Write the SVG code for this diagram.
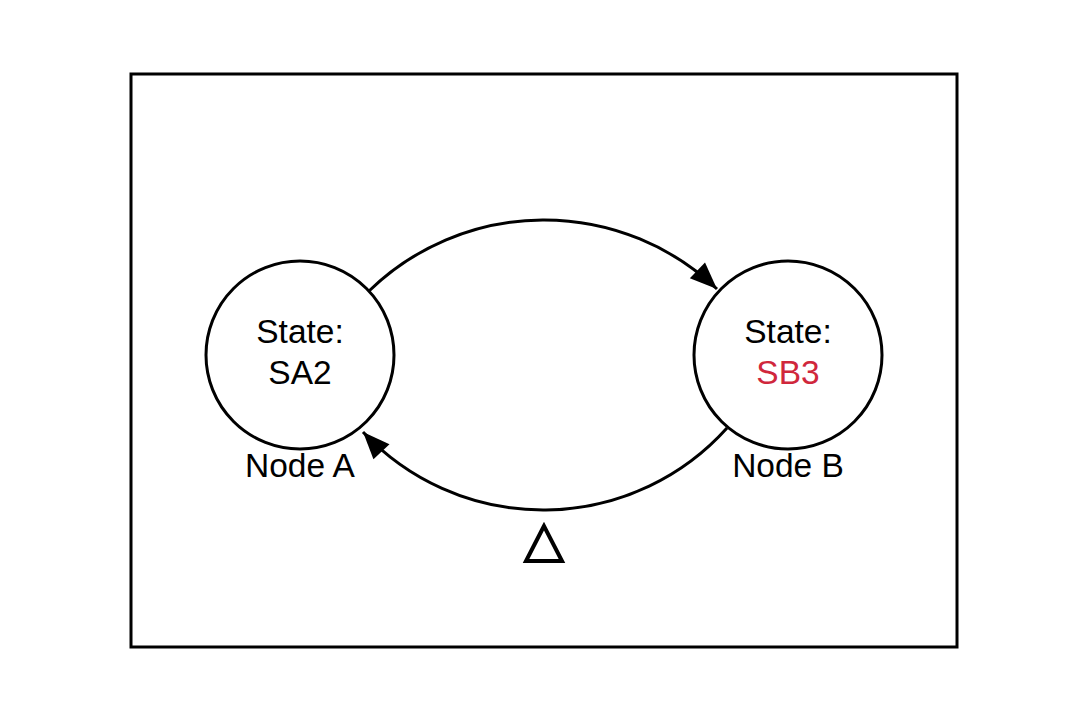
<svg xmlns="http://www.w3.org/2000/svg" width="1088" height="722" viewBox="0 0 1088 722">
<defs>
<style>
.frame{fill:#fff;stroke:#000;stroke-width:3}
.node{fill:#fff;stroke:#000;stroke-width:3}
.edge{fill:none;stroke:#000;stroke-width:3}
.t{font-family:"Liberation Sans",Arial,sans-serif;font-size:33.5px;text-anchor:middle;fill:#000}
.red{fill:#d0273c}
</style>
<marker id="arr" markerUnits="userSpaceOnUse" markerWidth="32" markerHeight="32" viewBox="0 0 32 32" refX="28" refY="16" orient="auto">
<path d="M1,5 L28,16 L1,27 Z" fill="#000"/>
</marker>
</defs>
<rect width="1088" height="722" fill="#fff"/>
<rect class="frame" x="131" y="74" width="826" height="573"/>
<g id="connectors">
<path class="edge" d="M369,291 A251,251 0 0 1 717,289" marker-end="url(#arr)"/>
<path class="edge" d="M727,428 A247,247 0 0 1 363,432" marker-end="url(#arr)"/>
</g>
<g id="nodeA">
<circle class="node" cx="300" cy="355" r="94"/>
<text class="t" x="300" y="343">State:</text>
<text class="t" x="300" y="384">SA2</text>
<text class="t" x="300" y="477">Node A</text>
</g>
<g id="nodeB">
<circle class="node" cx="788" cy="355" r="94"/>
<text class="t" x="788" y="343">State:</text>
<text class="t red" x="788" y="384">SB3</text>
<text class="t" x="788" y="477">Node B</text>
</g>
<g id="symbol">
<polygon points="544,526 526,561 562,561" fill="none" stroke="#000" stroke-width="4"/>
</g>
</svg>
